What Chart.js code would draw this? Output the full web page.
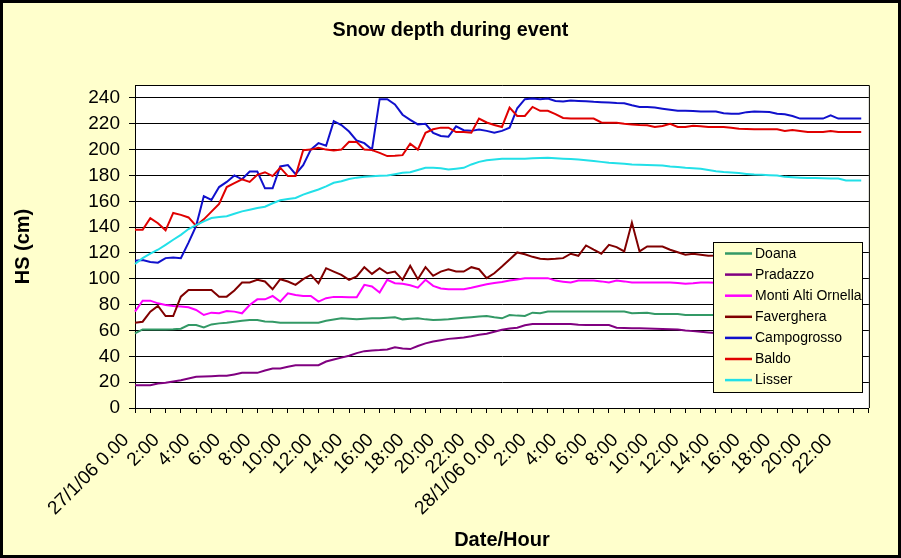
<!DOCTYPE html>
<html>
<head>
<meta charset="utf-8">
<title>Snow depth during event</title>
<script src="https://cdn.jsdelivr.net/npm/chart.js@4.4.1/dist/chart.umd.min.js"></script>
<style>
  html, body { margin: 0; padding: 0; background: #FFFFCC; }
  #chart { display: block; }
</style>
</head>
<body>
<canvas id="chart" width="901" height="558"></canvas>
<script>
// half-hourly readings, 27/1/06 0.00 -> 28/1/06 23.30
const tickLabels = [
  '27/1/06 0.00', '2:00', '4:00', '6:00', '8:00', '10:00', '12:00', '14:00', '16:00', '18:00', '20:00', '22:00',
  '28/1/06 0.00', '2:00', '4:00', '6:00', '8:00', '10:00', '12:00', '14:00', '16:00', '18:00', '20:00', '22:00'
];

const doana = [57.7,60.8,60.8,60.8,60.8,61,61.4,64.2,64.2,62.4, 64.7,65.5,66,66.8,67.5,68.1,68.1,67,66.8,66,
  66,66,66,66,66,67.5,68.5,69.4,69,68.6, 69,69.4,69.4,69.8,70.2,68.6,69,69.4,68.6,68.1,
  68.3,68.6,69.2,69.9,70.3,70.8,71.2,70.2,69.4,72, 71.5,71.2,73.8,73.3,74.6,74.6,74.6,74.6,74.6,74.6,
  74.6,74.6,74.6,74.6,74.6,73.3,73.5,73.8,72.8,72.8, 72.8,72.8,72,72,72,72,72,72,72,72,
  72,72,72,72,72,72,72,72,72,72, 72,72,72,72,72,72];

const pradazzo = [17.6,17.6,17.6,18.9,19.5,20.5,21.5,22.8,24.1,24.4, 24.6,24.9,24.9,26,27.2,27.2,27.2,29,30.6,30.6,
  32,33.1,33.1,33.1,33.1,36,37.5,39,40.4,42.5, 44,44.5,44.8,45.3,47,46.1,45.6,48,50,51.5,
  52.5,53.5,54,54.6,55.5,56.7,57.5,59,60.5,61.6, 62.1,64,65,65,65,65,65,65,64.5,64.2,
  64.2,64.2,64.2,62.1,62,61.8,61.7,61.6,61.4,61.2, 61,60.8,60,59.5,59,58.5,58,58,58,58,
  58,58,58,58,58,58,58,58,58,58, 58,58,58,58,58,58];

const monti = [74.6,83.1,83.1,81,79.7,79,78.5,77.9,75.9,72, 73.8,73.3,75.1,74.6,73.3,79.7,84.1,84.1,86.7,82.3,
  88.8,87.5,86.7,86.7,82.3,85,86,86,85.7,85.7, 95.3,94,89.3,99.2,96.6,96.1,95,93.2,99.2,94.5,
  92.5,91.9,91.9,91.9,93,94.5,95.8,96.8,97.5,98.6, 99.5,100.5,100.5,100.5,100.5,98.6,97.8,97.1,98.6,98.6,
  98.6,98,97.1,98.6,98,97.1,97.1,97.1,97.1,97.1, 97.1,96.8,96.1,96.5,97.1,97.1,97,97,97,97,
  97,97,97,97,97,97,97,97,97,97, 97,97,97,97,97,97];

const faverghera = [66,66.8,74.6,79,71.2,71.2,86.2,91.4,91.4,91.4, 91.4,86.2,86.2,90.9,97.1,97.1,99.2,97.9,91.9,99.7,
  97.9,95.3,99.7,103,96.6,108.2,105.6,103,99.2,101.8, 109,103.8,108.2,104.3,105.6,99.2,110,99.7,109,102.3,
  105.6,107.4,105.6,105.6,109,107.4,100.5,104.3,109.5,115, 120.4,119,117,115.5,115.2,115.5,116,119.4,117.8,125.8,
  122.5,119.4,126.3,124.5,121.2,143.5,121.2,125,125,125, 122.5,120.5,118.6,119.4,118.6,117.8,118,118.5,118,117.5,
  118,118.5,118,117.5,117,117.5,118,118,117.5,117, 117.5,118,117.5,117,117,117];

const campogrosso = [114,114.5,113,112.5,116,116.5,116,128,141,164, 161,171,175,180,177,183,183,170,170,187,
  188,181,188,200,205,203,222,219,214,207, 205,200,239,239,235,227,223,219.5,220,213,
  210.5,210,218,215,214.5,215.5,214.5,213,214.5,217, 232,239,239.5,239,239.5,237.7,237.2,238,237.7,237.5,
  237,236.7,236.4,236,235.9,234.3,233,233,232.5,231.7, 230.8,230,230,229.9,229.5,229.4,229.4,228.1,227.8,227.8,
  229,229.4,229.2,229.1,227.8,227.3,226,224,224,224, 224,226.5,224,224,224,224];

const baldo = [138,138,147,143,137.5,151,149.5,147.5,141,146, 152,158,171,174,177,175,180.5,182.5,179.5,186,
  179.5,179.5,199.5,200,201.4,200,199.4,200,206,205.8, 200,199.6,197.5,195,195.2,195.7,204.5,200,213,215.7,
  217,217,213.6,213.6,213,224,221,219,217.5,232.5, 226,226,233,230,230,227.5,224.5,224,224,224,
  224,221,220.8,220.8,220,219.5,219,218.8,217.5,218.3, 220,217.5,217.5,218.5,218,217.5,217.5,217.5,217,216.2,
  216,215.7,215.7,215.7,215.7,214.4,215.2,214.4,213.6,213.6, 213.6,214.4,213.6,213.6,213.6,213.6];

const lisser = [111.5,116,119.4,122.5,126.3,130.2,134,138.5,141.5,144.5, 147,147.8,148.4,150.3,152.2,153.5,154.8,155.8,158.5,160.8,
  161.7,162.6,165.2,167.2,169.1,171.5,174.3,175.5,177.3,178.3, 178.9,179.3,179.7,180,181,182,182.5,184.2,185.9,185.9,
  185.5,184.6,185.2,185.9,188.5,190.5,191.8,192.4,192.9,192.9, 192.9,193,193.3,193.5,193.7,193.4,193,192.7,192.4,191.8,
  191.1,190.5,189.8,189.4,189,188.5,188.3,188,187.8,187.7, 187,186.5,185.9,185.5,185.1,184.2,183.3,182.7,182.3,181.8,
  181.2,180.7,180.5,180.2,180,178.9,178.6,178.3,178.1,178, 177.8,177.7,177.6,176.1,176.1,176.1];

// category per half hour, plus one empty slot closing the axis
const categories = [];
[27, 28].forEach(day => {
  for (let h = 0; h < 24; h++) {
    categories.push(day + '/1/06 ' + h + ':00');
    categories.push(day + '/1/06 ' + h + ':30');
  }
});
categories.push('');

const FONT = "'Liberation Sans', Arial, sans-serif";
Chart.defaults.font.family = FONT;
Chart.defaults.color = '#000';

// yellow page, white plot, black frames, boxed legend inside the plot
const excelFrame = {
  id: 'excelFrame',
  beforeDraw(chart) {
    const { ctx, chartArea: a } = chart;
    ctx.save();
    ctx.fillStyle = '#FFFFCC';
    ctx.fillRect(0, 0, chart.width, chart.height);
    ctx.fillStyle = '#FFFFFF';
    ctx.fillRect(a.left, a.top, a.right - a.left, a.bottom - a.top);
    ctx.strokeStyle = '#000';
    ctx.lineWidth = 3;
    ctx.strokeRect(1.5, 1.5, chart.width - 3, chart.height - 3);
    ctx.restore();
  },
  afterDatasetsDraw(chart) {
    const { ctx, chartArea: a } = chart;
    ctx.save();
    ctx.strokeStyle = '#000';
    ctx.lineWidth = 1;
    ctx.beginPath();
    ctx.moveTo(a.left, a.top + 0.5);
    ctx.lineTo(a.right + 0.5, a.top + 0.5);
    ctx.lineTo(a.right + 0.5, a.bottom);
    ctx.stroke();

    // legend box
    const bx = 713, by = 242, bw = 149, bh = 150;
    ctx.fillStyle = '#FFFFCC';
    ctx.fillRect(bx, by, bw, bh);
    ctx.strokeRect(bx + 0.5, by + 0.5, bw, bh);
    ctx.font = '14px ' + FONT;
    ctx.textBaseline = 'middle';
    ctx.textAlign = 'left';
    chart.data.datasets.forEach((ds, k) => {
      const y = by + 11.5 + k * 21.1;
      ctx.strokeStyle = ds.borderColor;
      ctx.lineWidth = 2.5;
      ctx.beginPath();
      ctx.moveTo(bx + 12, y);
      ctx.lineTo(bx + 39, y);
      ctx.stroke();
      ctx.fillStyle = '#000';
      ctx.fillText(ds.label, bx + 42, y + 0.5);
    });
    ctx.restore();
  }
};

// later series drawn on top, as in the spreadsheet
function series(label, data, color, order) {
  return { label, data, borderColor: color, backgroundColor: color, borderWidth: 2, pointRadius: 0, tension: 0, fill: false, order };
}

new Chart(document.getElementById('chart'), {
  type: 'line',
  data: {
    labels: categories,
    datasets: [
      series('Doana', doana, '#339966', 7),
      series('Pradazzo', pradazzo, '#800080', 6),
      series('Monti Alti Ornella', monti, '#FF00FF', 5),
      series('Faverghera', faverghera, '#800000', 4),
      series('Campogrosso', campogrosso, '#1010CC', 3),
      series('Baldo', baldo, '#E00000', 2),
      series('Lisser', lisser, '#22E0E8', 1)
    ]
  },
  options: {
    responsive: false,
    animation: false,
    devicePixelRatio: 1,
    layout: { padding: 0 },
    plugins: {
      legend: { display: false },
      tooltip: { enabled: false },
      title: {
        display: true,
        text: 'Snow depth during event',
        font: { size: 19.75, weight: 'bold' },
        color: '#000',
        padding: { top: 19, bottom: 42.3 }
      }
    },
    scales: {
      x: {
        type: 'category',
        offset: false,
        afterFit(s) { s.height = 150; },
        border: { display: true, color: '#000', width: 1 },
        grid: {
          drawOnChartArea: false,
          drawTicks: true,
          tickLength: 5,
          color: ctx => (ctx.index === undefined || ctx.index % 2 === 0) ? '#000' : 'rgba(0,0,0,0)'
        },
        ticks: {
          autoSkip: false,
          minRotation: 45,
          maxRotation: 45,
          padding: 16,
          labelOffset: -9,
          font: { size: 19 },
          callback: (v, i) => (i % 4 === 0 && tickLabels[i / 4]) ? tickLabels[i / 4] : ''
        },
        title: {
          display: true,
          text: 'Date/Hour',
          font: { size: 20, weight: 'bold' },
          padding: { top: 0, bottom: 6 }
        }
      },
      y: {
        min: 0,
        max: 250,
        afterFit(s) { s.width = 135; },
        border: { display: true, color: '#000', width: 1 },
        grid: { color: '#000', lineWidth: 1, tickLength: 6 },
        ticks: { stepSize: 20, includeBounds: false, padding: 9, font: { size: 19 } },
        title: {
          display: true,
          text: 'HS (cm)',
          font: { size: 20, weight: 'bold' },
          padding: { top: 11.5, bottom: 0 }
        }
      },
      // empty right margin so the title centres on the whole picture
      yRight: {
        position: 'right',
        afterFit(s) { s.width = 31; },
        border: { display: false },
        grid: { display: false },
        ticks: { display: false }
      }
    }
  },
  plugins: [excelFrame]
});
</script>
</body>
</html>
